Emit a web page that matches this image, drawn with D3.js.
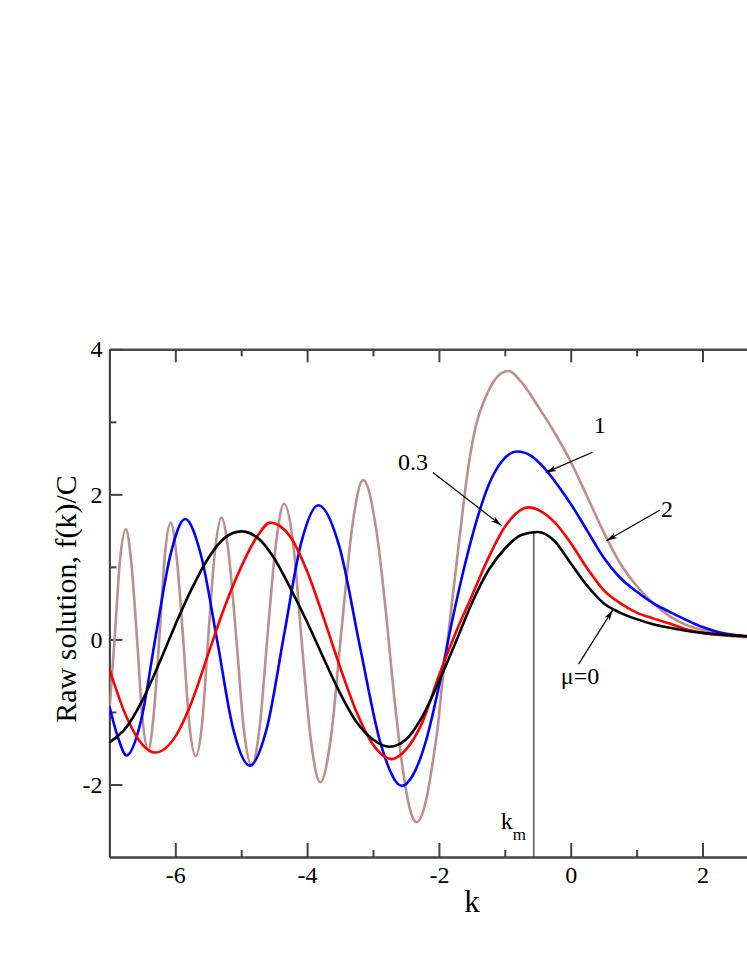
<!DOCTYPE html>
<html>
<head>
<meta charset="utf-8">
<script src="https://cdn.jsdelivr.net/npm/d3@7"></script>
<style>
  body { margin: 0; background: #fff; }
  svg text { font-family: "Liberation Serif", "Times New Roman", serif; }
</style>
</head>
<body>
<div id="graph"></div>
<script>
// series: k values and f(k)/C for each mu
let kMu0 = [-7, -6.75, -6.5, -6.25, -6, -5.75, -5.5, -5.25, -5, -4.75, -4.5, -4.25, -4, -3.75, -3.5,
  -3.25, -3, -2.75, -2.5, -2.25, -2, -1.75, -1.5, -1.25, -1, -0.75, -0.5, -0.25, 0, 0.25, 0.5,
  0.75, 1, 1.25, 1.5, 1.75, 2, 2.25, 2.5, 2.75, 3];
let fMu0 = [-1.42, -1.22, -0.84, -0.34, 0.2, 0.7, 1.12, 1.4, 1.49, 1.4, 1.12, 0.7, 0.24, -0.26, -0.74,
  -1.14, -1.38, -1.48, -1.38, -1.06, -0.58, -0.05, 0.5, 0.95, 1.25, 1.44, 1.48, 1.36, 1.05, 0.74, 0.5,
  0.37, 0.28, 0.21, 0.16, 0.12, 0.09, 0.07, 0.05, 0.04, 0.03];

let kMu03 = [-7, -6.75, -6.5, -6.31, -6, -5.75, -5.5, -5.25, -5, -4.75, -4.56, -4.25, -4, -3.75, -3.5,
  -3.25, -3, -2.72, -2.5, -2.25, -2, -1.75, -1.5, -1.25, -1, -0.64, -0.25, 0, 0.25, 0.5, 0.75, 1,
  1.25, 1.5, 1.75, 2, 2.5, 3];
let fMu03 = [-0.41, -1.05, -1.45, -1.56, -1.34, -0.86, -0.2, 0.45, 1, 1.43, 1.61, 1.41, 0.94, 0.3, -0.38,
  -1, -1.45, -1.65, -1.52, -1.14, -0.5, 0.08, 0.6, 1.12, 1.55, 1.82, 1.62, 1.33, 0.98, 0.68, 0.5, 0.37,
  0.29, 0.22, 0.14, 0.09, 0.05, 0.03];

let kMu1 = [-7, -6.87, -6.74, -6.52, -6.3, -6.07, -5.85, -5.61, -5.36, -5.12, -4.87, -4.61, -4.35, -4.09,
  -3.83, -3.51, -3.2, -2.88, -2.56, -2.4, -2.19, -2, -1.8, -1.6, -1.43, -1.25, -1.05, -0.81, -0.6,
  -0.4, -0.2, 0, 0.25, 0.5, 0.75, 1, 1.25, 1.5, 1.75, 2, 2.25, 2.5, 3];
let fMu1 = [-0.92, -1.35, -1.6, -1.12, 0.03, 1.18, 1.66, 1.16, -0.04, -1.24, -1.74, -1.22, 0.06, 1.33,
  1.85, 1.28, -0.09, -1.45, -2.02, -1.88, -1.38, -0.65, 0.25, 1.05, 1.63, 2.12, 2.45, 2.59, 2.53,
  2.36, 2.13, 1.87, 1.5, 1.13, 0.85, 0.66, 0.5, 0.38, 0.27, 0.17, 0.1, 0.06, 0.03];

let kMu2 = [-7, -6.92, -6.84, -6.75, -6.67, -6.58, -6.5, -6.41, -6.33, -6.24, -6.16, -6.07, -5.98, -5.88,
  -5.79, -5.69, -5.59, -5.5, -5.4, -5.3, -5.19, -5.07, -4.96, -4.84, -4.72, -4.6, -4.47, -4.35, -4.21,
  -4.08, -3.94, -3.8, -3.64, -3.48, -3.31, -3.15, -2.95, -2.8, -2.69, -2.54, -2.44, -2.34, -2.19,
  -2.08, -2.01, -1.96, -1.86, -1.7, -1.55, -1.43, -1.3, -1.15, -1.05, -0.94, -0.75, -0.5, -0.25, 0,
  0.25, 0.5, 0.75, 1, 1.25, 1.5, 1.75, 2, 2.25, 2.5, 3];
let fMu2 = [-1, 0.02, 1.08, 1.52, 1.08, 0, -1.08, -1.52, -1.06, 0.05, 1.15, 1.61, 1.14, 0, -1.14, -1.61,
  -1.13, 0.03, 1.2, 1.68, 1.18, -0.03, -1.24, -1.74, -1.21, 0.06, 1.34, 1.87, 1.31, -0.05, -1.41,
  -1.97, -1.36, 0.11, 1.59, 2.2, 1.51, 0.34, -0.69, -1.84, -2.34, -2.52, -2.2, -1.61, -1.15, -0.69,
  0.05, 1.3, 2.4, 2.98, 3.32, 3.58, 3.67, 3.7, 3.55, 3.22, 2.86, 2.45, 1.97, 1.48, 1.05, 0.74, 0.5,
  0.32, 0.2, 0.13, 0.08, 0.04, 0.02];

let seriesColors = ["#000000", "#ff0000", "#0000ff", "#bc8f8f"];

// ticks
let xMajor = [-6, -4, -2, 0, 2];
let xMinor = [-5, -3, -1, 1, 3];
let yMajor = [-2, 0, 2, 4];
let yMinor = [-1, 1, 3];

// position of the maximum, k_m
let kM = -0.56;
let fAtKm = 1.49;

// curve labels: text, label anchor (k, f), arrow tail and tip (k, f)
let labelText = ["\u03bc=0", "0.3", "1", "2"];
let labelK = [-0.15, -2.62, 0.35, 1.37];
let labelF = [-0.62, 2.33, 2.85, 1.69];
let arrowFromK = [0.12, -2.09, 0.33, 1.35];
let arrowFromF = [-0.34, 2.3, 2.58, 1.78];
let arrowToK = [0.64, -1.05, -0.38, 0.54];
let arrowToF = [0.41, 1.57, 2.3, 1.36];

let width = 747, height = 967;
let svg = d3.select("#graph").append("svg")
  .attr("width", width)
  .attr("height", height);

let x = d3.scaleLinear().domain([-7, 3]).range([109.4, 768.4]);
let y = d3.scaleLinear().domain([-3, 4]).range([857, 349.3]);

// clip curves to the plot frame
svg.append("clipPath").attr("id", "plotClip")
  .append("rect")
  .attr("x", x(-7)).attr("y", y(4))
  .attr("width", x(3) - x(-7)).attr("height", y(-3) - y(4));

let axisColor = "#444";

function drawAxis(axis, tx, ty) {
  let g = svg.append("g")
    .attr("transform", "translate(" + tx + "," + ty + ")")
    .call(axis);
  g.select(".domain").attr("stroke", axisColor).attr("stroke-width", 2);
  g.selectAll(".tick line").attr("stroke", axisColor).attr("stroke-width", 2);
  g.selectAll("text").attr("fill", "#000").style("font-size", "24px");
  return g;
}

// plain hyphen minus like the original
let plainNum = function (d) { return String(d); };
let noLabel = function () { return ""; };

// bottom and left, with labels
drawAxis(d3.axisBottom(x).tickValues(xMajor).tickSize(-14).tickSizeOuter(0).tickPadding(9)
  .tickFormat(plainNum), 0, y(-3));
drawAxis(d3.axisBottom(x).tickValues(xMinor).tickSize(-7).tickSizeOuter(0).tickFormat(noLabel), 0, y(-3));
drawAxis(d3.axisLeft(y).tickValues(yMajor).tickSize(-13).tickSizeOuter(0).tickPadding(7)
  .tickFormat(plainNum), x(-7), 0);
drawAxis(d3.axisLeft(y).tickValues(yMinor).tickSize(-7).tickSizeOuter(0).tickFormat(noLabel), x(-7), 0);

// top and right frame, ticks inside, no labels
drawAxis(d3.axisTop(x).tickValues(xMajor).tickSize(-13).tickSizeOuter(0).tickFormat(noLabel), 0, y(4));
drawAxis(d3.axisTop(x).tickValues(xMinor).tickSize(-7).tickSizeOuter(0).tickFormat(noLabel), 0, y(4));
drawAxis(d3.axisRight(y).tickValues(yMajor).tickSize(-13).tickSizeOuter(0).tickFormat(noLabel), x(3), 0);

// k_m marker line
svg.append("line")
  .attr("x1", x(kM)).attr("x2", x(kM))
  .attr("y1", y(-3)).attr("y2", y(fAtKm))
  .attr("stroke", "#555").attr("stroke-width", 1.5);

// curves
let allK = [kMu0, kMu03, kMu1, kMu2];
let allF = [fMu0, fMu03, fMu1, fMu2];
let line = d3.line()
  .x(function (d) { return x(d[0]); })
  .y(function (d) { return y(d[1]); })
  .curve(d3.curveMonotoneX);

let curves = svg.append("g").attr("clip-path", "url(#plotClip)");
// draw highest mu first so black ends up on top
for (let s = 3; s >= 0; s--) {
  let pts = d3.zip(allK[s], allF[s]);
  curves.append("path")
    .datum(pts)
    .attr("fill", "none")
    .attr("stroke", seriesColors[s])
    .attr("stroke-width", 2.6)
    .attr("stroke-linejoin", "round")
    .attr("d", line);
}

// arrowhead
svg.append("defs").append("marker")
  .attr("id", "arrowHead")
  .attr("viewBox", "-12 -4 14 8")
  .attr("refX", 0).attr("refY", 0)
  .attr("markerWidth", 14).attr("markerHeight", 8)
  .attr("markerUnits", "userSpaceOnUse")
  .attr("orient", "auto")
  .append("path")
  .attr("d", "M0,0 L-11,-3 L-8,0 L-11,3 Z")
  .attr("fill", "#000");

for (let i = 0; i < labelText.length; i++) {
  svg.append("line")
    .attr("x1", x(arrowFromK[i])).attr("y1", y(arrowFromF[i]))
    .attr("x2", x(arrowToK[i])).attr("y2", y(arrowToF[i]))
    .attr("stroke", "#000").attr("stroke-width", 1.2)
    .attr("marker-end", "url(#arrowHead)");
  svg.append("text")
    .attr("x", x(labelK[i])).attr("y", y(labelF[i]))
    .style("font-size", "24px")
    .text(labelText[i]);
}

// k_m label
let kmText = svg.append("text")
  .attr("x", x(kM) - 33).attr("y", 829)
  .style("font-size", "24px");
kmText.append("tspan").text("k");
kmText.append("tspan").attr("dy", 11).style("font-size", "17px").text("m");

// axis titles
svg.append("text")
  .attr("x", 472).attr("y", 912)
  .attr("text-anchor", "middle")
  .style("font-size", "31px")
  .text("k");

svg.append("text")
  .attr("transform", "translate(76,599) rotate(-90)")
  .attr("text-anchor", "middle")
  .style("font-size", "30px")
  .text("Raw solution, f(k)/C");
</script>
</body>
</html>
